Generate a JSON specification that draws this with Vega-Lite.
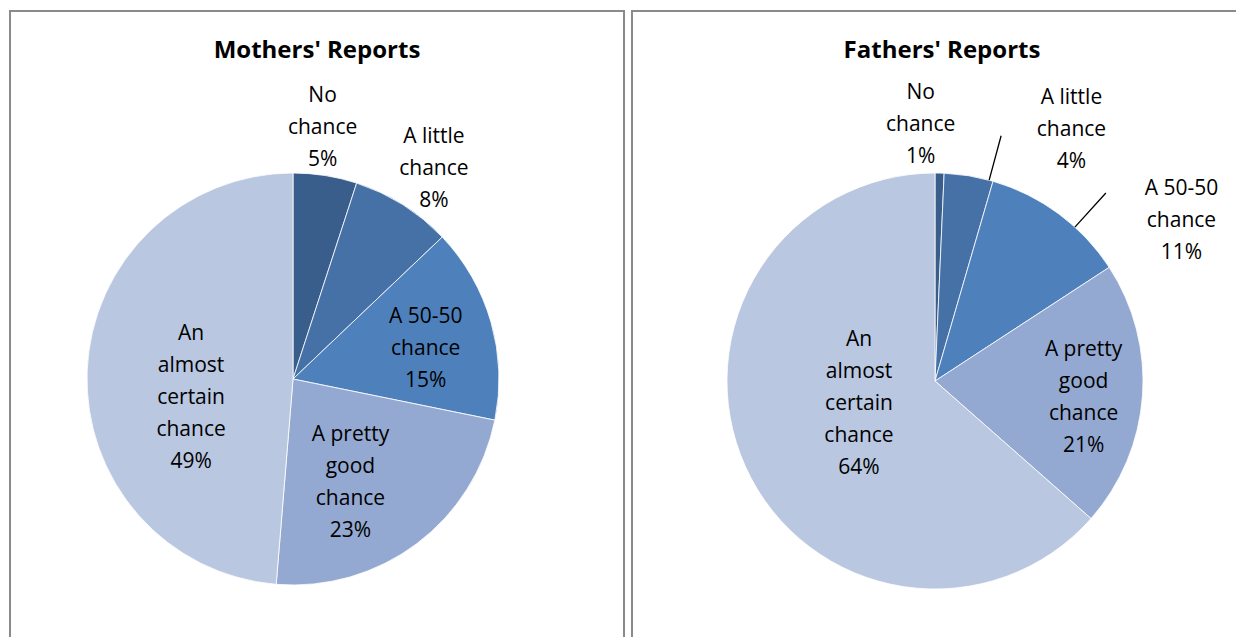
{
  "$schema": "https://vega.github.io/schema/vega-lite/v6.json",
  "padding": {"left": 9, "top": 10, "right": 0, "bottom": 0},
  "background": "#ffffff",
  "spacing": 6,
  "datasets": {
    "mothers": [
      {"k": 1, "cat": "No chance", "v": 5.0, "label": "No\nchance\n5%"},
      {"k": 2, "cat": "A little chance", "v": 7.9, "label": "A little\nchance\n8%"},
      {"k": 3, "cat": "A 50-50 chance", "v": 15.3, "label": "A 50-50\nchance\n15%"},
      {"k": 4, "cat": "A pretty good chance", "v": 23.1, "label": "A pretty\ngood\nchance\n23%"},
      {"k": 5, "cat": "An almost certain chance", "v": 48.7, "label": "An\nalmost\ncertain\nchance\n49%"}
    ],
    "fathers": [
      {"k": 1, "cat": "No chance", "v": 0.7, "label": "No\nchance\n1%"},
      {"k": 2, "cat": "A little chance", "v": 3.8, "label": "A little\nchance\n4%"},
      {"k": 3, "cat": "A 50-50 chance", "v": 11.3, "label": "A 50-50\nchance\n11%"},
      {"k": 4, "cat": "A pretty good chance", "v": 20.7, "label": "A pretty\ngood\nchance\n21%"},
      {"k": 5, "cat": "An almost certain chance", "v": 63.5, "label": "An\nalmost\ncertain\nchance\n64%"}
    ]
  },
  "hconcat": [
    {
      "width": 614,
      "height": 640,
      "view": {"stroke": "#8a8a8a", "strokeWidth": 2},
      "data": {"name": "mothers"},
      "title": {"text": "Mothers' Reports", "offset": -52, "frame": "group"},
      "encoding": {
        "theta": {"field": "v", "type": "quantitative", "stack": true},
        "order": {"field": "k", "type": "quantitative"}
      },
      "layer": [
        {"mark": {"type": "arc", "x": 283, "y": 368, "radius": 206, "stroke": "#ffffff", "strokeWidth": 0.8},
         "encoding": {"color": {"field": "cat", "type": "nominal", "legend": null,
           "scale": {"domain": ["No chance", "A little chance", "A 50-50 chance", "A pretty good chance", "An almost certain chance"],
                     "range": ["#3A5E8C", "#4571A7", "#4E80BC", "#94A9D1", "#B9C7E0"]}}}},
        {"mark": {"type": "text", "x": 283, "y": 368, "radius": 253, "dx": -10, "dy": -33},
         "encoding": {"text": {"condition": {"test": "datum.k === 1", "field": "label"}, "value": ""}}},
        {"mark": {"type": "text", "x": 283, "y": 368, "radius": 253, "dx": 6, "dy": -28},
         "encoding": {"text": {"condition": {"test": "datum.k === 2", "field": "label"}, "value": ""}}},
        {"mark": {"type": "text", "x": 283, "y": 368, "radius": 136, "dx": 2, "dy": -24},
         "encoding": {"text": {"condition": {"test": "datum.k === 3", "field": "label"}, "value": ""}}},
        {"mark": {"type": "text", "x": 283, "y": 368, "radius": 119, "dx": -14, "dy": -39},
         "encoding": {"text": {"condition": {"test": "datum.k === 4", "field": "label"}, "value": ""}}},
        {"mark": {"type": "text", "x": 283, "y": 368, "radius": 104, "dx": 2, "dy": -41},
         "encoding": {"text": {"condition": {"test": "datum.k === 5", "field": "label"}, "value": ""}}}
      ]
    },
    {
      "width": 620,
      "height": 640,
      "view": {"stroke": "#8a8a8a", "strokeWidth": 2},
      "data": {"name": "fathers"},
      "title": {"text": "Fathers' Reports", "offset": -52, "frame": "group"},
      "encoding": {
        "theta": {"field": "v", "type": "quantitative", "stack": true},
        "order": {"field": "k", "type": "quantitative"}
      },
      "layer": [
        {"mark": {"type": "arc", "x": 303, "y": 370, "radius": 208, "stroke": "#ffffff", "strokeWidth": 0.8},
         "encoding": {"color": {"field": "cat", "type": "nominal", "legend": null,
           "scale": {"domain": ["No chance", "A little chance", "A 50-50 chance", "A pretty good chance", "An almost certain chance"],
                     "range": ["#3A5E8C", "#4571A7", "#4E80BC", "#94A9D1", "#B9C7E0"]}}}},
        {"mark": {"type": "arc", "x": 303, "y": 370, "radius": 254, "radius2": 208, "padAngle": 3, "thetaOffset": 0.1, "fillOpacity": 0, "fill": "#000000", "stroke": "#000000", "strokeWidth": 1.3},
         "encoding": {"strokeOpacity": {"condition": {"test": "datum.k === 2 || datum.k === 3", "value": 1}, "value": 0}}},
        {"mark": {"type": "text", "x": 303, "y": 370, "radius": 256, "dx": -20, "dy": -32},
         "encoding": {"text": {"condition": {"test": "datum.k === 1", "field": "label"}, "value": ""}}},
        {"mark": {"type": "text", "x": 303, "y": 370, "radius": 255, "dx": 95, "dy": -31},
         "encoding": {"text": {"condition": {"test": "datum.k === 2", "field": "label"}, "value": ""}}},
        {"mark": {"type": "text", "x": 303, "y": 370, "radius": 293, "dx": 72, "dy": 43},
         "encoding": {"text": {"condition": {"test": "datum.k === 3", "field": "label"}, "value": ""}}},
        {"mark": {"type": "text", "x": 303, "y": 370, "radius": 150, "dx": -1, "dy": -42},
         "encoding": {"text": {"condition": {"test": "datum.k === 4", "field": "label"}, "value": ""}}},
        {"mark": {"type": "text", "x": 303, "y": 370, "radius": 79, "dx": -4, "dy": -74},
         "encoding": {"text": {"condition": {"test": "datum.k === 5", "field": "label"}, "value": ""}}}
      ]
    }
  ],
  "config": {
    "view": {"stroke": "#8a8a8a", "strokeWidth": 2},
    "title": {"font": "Open Sans", "fontSize": 24, "fontWeight": "bold", "color": "#000000", "anchor": "middle"},
    "text": {"font": "Open Sans", "fontSize": 21, "lineBreak": "\n", "lineHeight": 32, "baseline": "middle", "align": "center", "color": "#000000"}
  }
}
